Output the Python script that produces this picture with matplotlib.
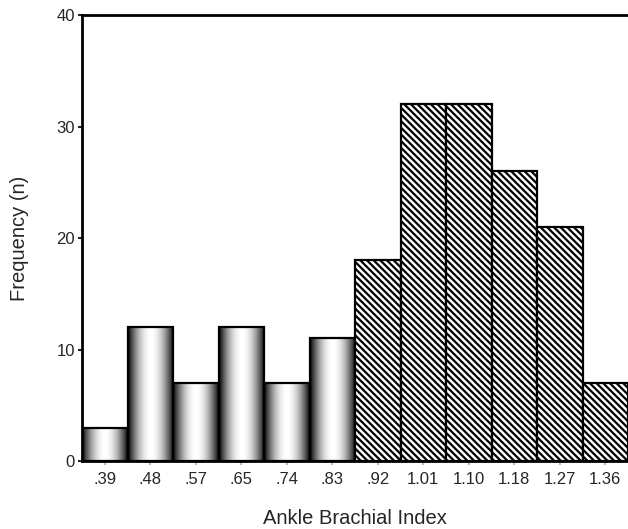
import numpy as np
import matplotlib.pyplot as plt

plt.rcParams['font.family'] = ['Liberation Sans', 'DejaVu Sans']
plt.rcParams['hatch.linewidth'] = 1.6

# ABI class midpoints and counts
abi_labels = ['.39', '.48', '.57', '.65', '.74', '.83',
              '.92', '1.01', '1.10', '1.18', '1.27', '1.36']
frequency = [3, 12, 7, 12, 7, 11, 18, 32, 32, 26, 21, 7]
n_low = 6  # first six classes are drawn shaded, the rest hatched

text_color = '#262626'

fig = plt.figure(figsize=(6.28, 5.29), dpi=100)
ax = fig.add_axes([0.1306, 0.1285, 0.8694, 0.8431])

x = np.arange(len(frequency))

# shaded (cylinder-like) bars
low_bars = ax.bar(x[:n_low], frequency[:n_low], width=1.0, facecolor='none',
                  edgecolor='black', linewidth=1.6, zorder=3)
t = np.linspace(0, 1, 200)
profile = np.sin(np.pi * t) ** 0.9
grad = profile[np.newaxis, :]
for b in low_bars:
    x0, w, h = b.get_x(), b.get_width(), b.get_height()
    im = ax.imshow(grad, extent=[x0, x0 + w, 0, h], cmap='gray', vmin=0, vmax=1,
                   aspect='auto', interpolation='bilinear', zorder=2)
    im.set_clip_path(b)

# hatched bars
ax.bar(x[n_low:], frequency[n_low:], width=1.0, color='white', edgecolor='black',
       linewidth=1.6, hatch='\\\\\\\\\\', zorder=3)

ax.set_xlim(-0.5, len(frequency) - 0.5)
ax.set_ylim(0, 40)
ax.set_xticks(x)
ax.set_xticklabels(abi_labels)
ax.set_yticks([0, 10, 20, 30, 40])

ax.tick_params(axis='both', labelsize=12, colors=text_color, length=3, width=1.5)
ax.tick_params(axis='x', color='#bbbbbb', pad=5)
ax.tick_params(axis='y', pad=2)

for side in ['left', 'top', 'bottom']:
    ax.spines[side].set_linewidth(2)
ax.spines['right'].set_visible(False)

ax.set_xlabel('Ankle Brachial Index', fontsize=14.5, color=text_color, labelpad=16)
ax.set_ylabel('Frequency (n)', fontsize=14.5, color=text_color, labelpad=20)

fig.savefig('out.png', dpi=100)
